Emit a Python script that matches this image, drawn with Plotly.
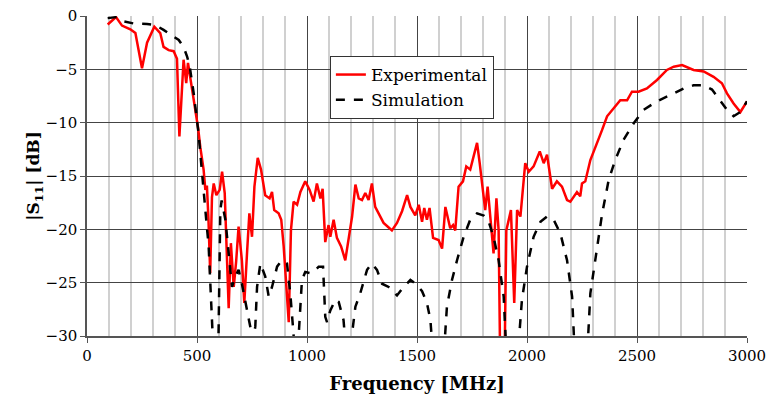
import plotly.graph_objects as go

# Experimental |S11| (MHz, dB)
exp_freq = [94, 132, 159, 197, 220, 250, 273, 306, 333, 348, 371, 394, 409, 420, 439, 451, 459, 475, 492,
            505, 515, 530, 538, 545, 552, 560, 568, 576, 588, 603, 614, 626, 635, 644, 654, 667, 678, 689,
            704, 715, 728, 738, 750, 761, 776, 791, 810, 830, 841, 851, 871, 883, 894, 901, 917, 927, 939,
            955, 970, 992, 1012, 1030, 1045, 1061, 1071, 1083, 1098, 1106, 1121, 1136, 1155, 1174, 1189,
            1205, 1220, 1235, 1250, 1265, 1280, 1295, 1310, 1333, 1348, 1370, 1386, 1409, 1432, 1455, 1470,
            1492, 1508, 1523, 1533, 1545, 1557, 1573, 1598, 1614, 1629, 1651, 1664, 1674, 1689, 1709, 1724,
            1742, 1762, 1773, 1785, 1795, 1810, 1821, 1836, 1848, 1861, 1871, 1879, 1897, 1906, 1917, 1927,
            1942, 1955, 1970, 1992, 2008, 2030, 2058, 2076, 2091, 2114, 2136, 2159, 2182, 2197, 2227, 2242,
            2250, 2265, 2288, 2318, 2341, 2364, 2394, 2424, 2455, 2477, 2507, 2545, 2591, 2636, 2667, 2705,
            2757, 2803, 2848, 2886, 2909, 2939, 2970, 3000]
exp_db = [-0.8, -0.1, -0.9, -1.25, -1.6, -4.9, -2.5, -1.0, -1.6, -2.9, -3.2, -3.3, -4.0, -11.3, -4.1, -6.3, -4.4, -6.5, -8.7,
          -10.5, -12.3, -14.4, -16.3, -15.9, -19.0, -24.1, -17.0, -15.7, -16.8, -16.3, -14.6, -16.6, -22.0, -27.4, -21.3, -25.4, -23.0, -19.75,
          -22.9, -26.9, -22.0, -18.5, -20.7, -16.0, -13.3, -14.4, -16.8, -17.1, -16.5, -18.2, -18.5, -19.1, -21.6, -24.1, -28.7, -20.1, -17.4,
          -17.7, -16.5, -15.5, -16.3, -17.4, -15.7, -17.1, -16.2, -21.2, -19.6, -20.7, -19.1, -20.8, -21.6, -22.9, -21.0,
          -18.8, -15.8, -17.1, -17.25, -16.6, -17.25, -15.7, -17.9, -18.8, -19.4, -19.8, -20.1, -19.4, -18.3, -16.8, -17.9,
          -18.7, -17.7, -19.3, -18.0, -19.1, -18.0, -20.8, -21.0, -21.8, -17.9, -19.9, -19.6, -20.1, -16.0, -15.5, -14.1,
          -14.4, -12.7, -11.9, -13.8, -15.4, -18.2, -16.0, -19.1, -22.25, -17.1, -20.1, -34.0, -34.0, -20.1, -19.1, -18.2,
          -26.9, -18.2, -18.8, -13.8, -14.6, -14.1, -12.7, -13.8, -13.0, -16.2, -15.5, -16.0, -17.25, -17.4, -16.5, -16.9,
          -15.7, -15.5, -13.5, -12.0, -10.7, -9.4, -8.65, -7.9, -7.9, -7.1, -7.1, -6.8, -6.0, -5.06, -4.75, -4.6,
          -5.06, -5.2, -5.7, -6.3, -7.25, -8.2, -9.0, -8.0]

# Simulated |S11| (MHz, dB)
sim_freq = [94, 136, 167, 212, 273, 310, 348, 386, 417, 439, 455, 467, 485, 507, 523, 538, 553, 568, 580, 595,
            606, 612, 629, 644, 659, 674, 689, 704, 724, 742, 755, 765, 773, 788, 810, 826, 841, 864, 886, 909,
            924, 936, 950, 962, 977, 992, 1015, 1030, 1053, 1073, 1083, 1091, 1106, 1129, 1144, 1166, 1180, 1195,
            1205, 1220, 1242, 1273, 1295, 1318, 1341, 1371, 1409, 1439, 1470, 1500, 1523, 1545, 1561, 1580, 1615,
            1636, 1659, 1682, 1712, 1742, 1773, 1803, 1826, 1848, 1871, 1894, 1912, 1950, 1977, 2000, 2030, 2061,
            2091, 2121, 2152, 2182, 2205, 2222, 2268, 2288, 2311, 2341, 2371, 2401, 2439, 2485, 2530, 2591, 2652,
            2712, 2757, 2803, 2841, 2879, 2909, 2939, 2970, 3000]
sim_db = [-0.2, -0.1, -0.5, -0.7, -0.75, -0.85, -1.3, -1.8, -2.25, -2.9, -3.8, -4.75, -7.25, -11.0, -14.4, -18.2, -21.6, -29.1, -34.0, -34.0,
          -18.2, -17.3, -19.1, -22.25, -25.4, -24.4, -23.8, -25.1, -27.25, -29.1, -30.5, -29.1, -25.4, -23.2, -24.4, -26.3, -25.4, -23.5, -22.9, -23.2,
          -26.0, -29.1, -33.0, -30.0, -24.75, -24.0, -24.1, -24.0, -23.5, -23.5, -28.2, -28.7, -27.6, -26.6, -26.8, -28.5, -32.0, -32.0,
          -29.75, -27.25, -26.0, -23.8, -23.2, -23.8, -25.1, -25.4, -26.2, -25.4, -24.75, -25.2, -25.8, -26.9, -28.5, -34.0, -34.0,
          -27.25, -24.75, -22.9, -20.7, -19.1, -18.5, -18.7, -19.3, -20.7, -22.9, -26.3, -34.0, -34.0, -26.6, -23.5, -20.7, -19.3,
          -18.8, -19.1, -20.4, -22.9, -26.3, -34.0, -34.0, -26.0, -22.6, -18.6, -15.4, -13.5, -11.6, -10.06, -8.8, -8.0, -7.4,
          -6.8, -6.5, -6.5, -6.9, -7.9, -8.8, -9.4, -9.0, -8.0]

serif = "DejaVu Serif"

fig = go.Figure()
fig.add_trace(go.Scatter(x=exp_freq, y=exp_db, mode="lines", name="Experimental",
                         line=dict(color="#ff0000", width=2.5)))
fig.add_trace(go.Scatter(x=sim_freq, y=sim_db, mode="lines", name="Simulation",
                         line=dict(color="black", width=2.5, dash="dash")))

fig.update_layout(
    width=769, height=408,
    margin=dict(l=87, r=22, t=16, b=72, autoexpand=False),
    paper_bgcolor="white", plot_bgcolor="white",
    font=dict(family=serif, size=15, color="black"),
    showlegend=True,
    legend=dict(x=0.368, y=0.875, xanchor="left", yanchor="top",
                bgcolor="white", bordercolor="#333333", borderwidth=1,
                font=dict(family=serif, size=17), tracegroupgap=0,
                itemwidth=30),
    xaxis=dict(range=[0, 3000], dtick=500, tick0=0, automargin=False,
               showgrid=True, gridcolor="#444444", gridwidth=1,
               minor=dict(dtick=100, showgrid=True, gridcolor="#d0d0d0", gridwidth=1.5),
               showline=True, linecolor="#555555", linewidth=1.5,
               ticks="outside", ticklen=5, tickcolor="#555555",
               tickfont=dict(family=serif, size=15),
               title=dict(text="<b>Frequency [MHz]</b>", font=dict(family=serif, size=18), standoff=14),
               zeroline=False),
    yaxis=dict(range=[-30, 0], dtick=5, automargin=False,
               showgrid=True, gridcolor="#444444", gridwidth=1,
               showline=True, linecolor="#555555", linewidth=1.5,
               ticks="outside", ticklen=5, tickcolor="#555555",
               tickfont=dict(family=serif, size=15),
               title=dict(text="<b>|S<sub>11</sub>| [dB]</b>", font=dict(family=serif, size=17), standoff=0),
               zeroline=False),
)

# the page body has a default 8px margin; drop it so the figure sits at the window origin
fig.write_html("out.html", config={"displayModeBar": False},
               post_script="document.body.style.margin='0px';")
